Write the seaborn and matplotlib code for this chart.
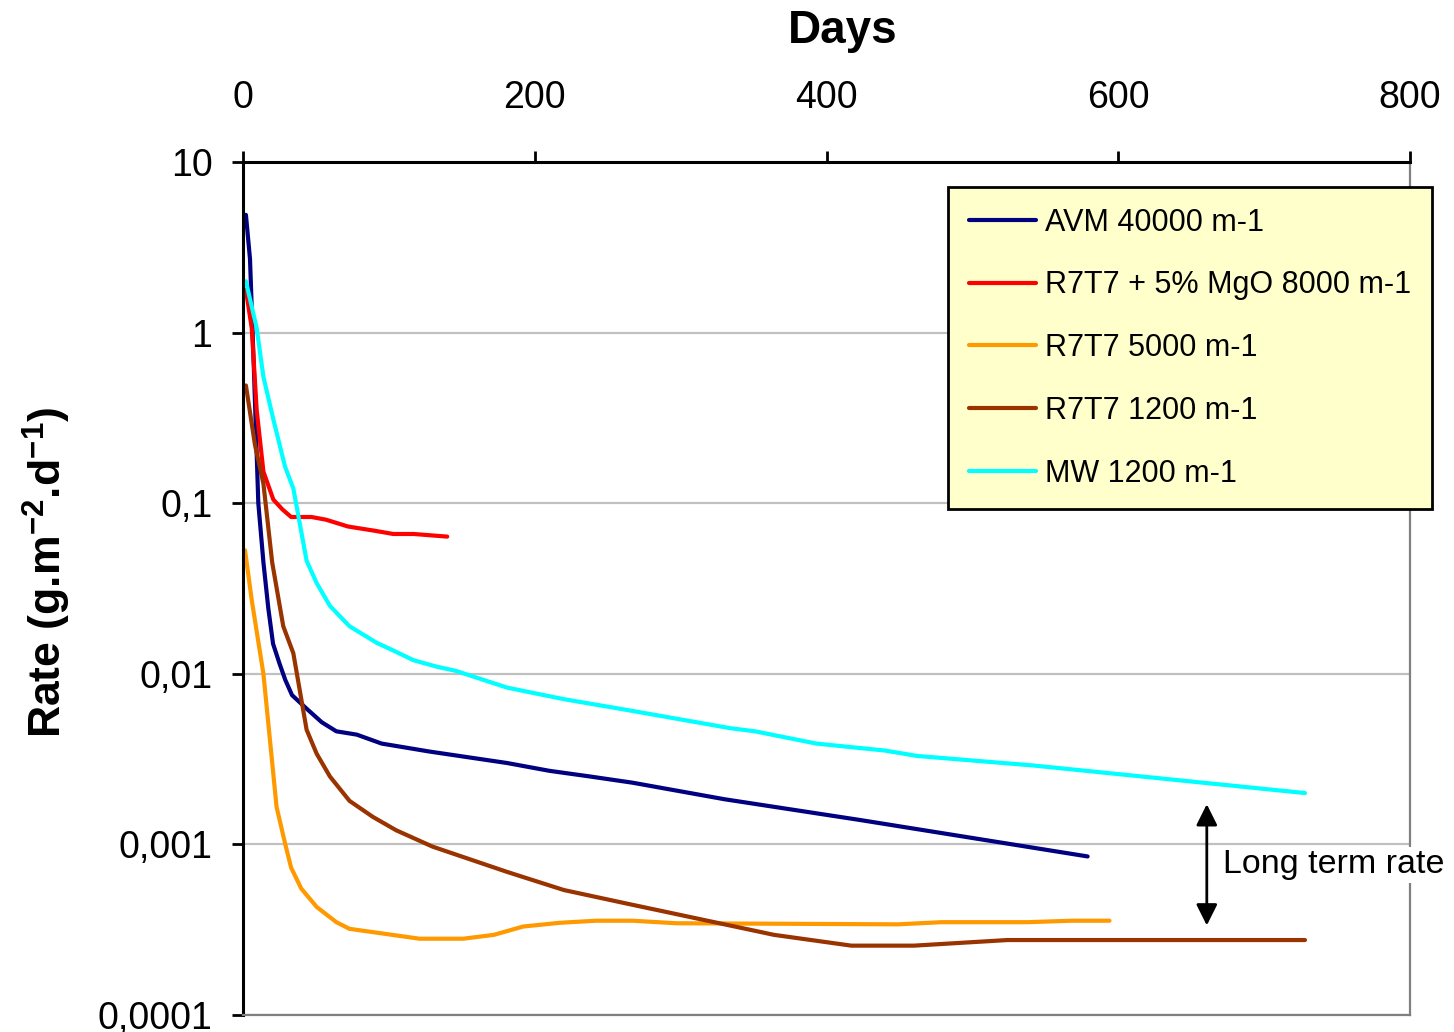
import matplotlib
matplotlib.use("Agg")
import matplotlib.pyplot as plt
import seaborn as sns
import numpy as np
import pandas as pd
from matplotlib.ticker import FixedLocator, FixedFormatter, NullLocator

# ---- data ----
series_names = ["AVM 40000 m-1", "R7T7 + 5% MgO 8000 m-1", "R7T7 5000 m-1",
                "R7T7 1200 m-1", "MW 1200 m-1"]
series_colors = ["#000080", "#FF0000", "#FF9900", "#993300", "#00FFFF"]

avm_days = [2, 4.8, 7.5, 10.5, 14, 17.4, 20.6, 25, 29, 33.6, 44, 54, 64, 78, 95,
            128, 181, 210, 238, 267, 330, 423, 579]
avm_rate = [4.9, 2.7, 0.6, 0.1, 0.045, 0.024, 0.015, 0.0115, 0.0092, 0.0075, 0.0062,
            0.0052, 0.0046, 0.0044, 0.0039, 0.0035, 0.0030, 0.0027, 0.0025, 0.0023,
            0.00184, 0.00139, 0.00085]

mgo_days = [2, 6, 9.4, 14, 20.8, 27, 33, 47, 57, 72, 90, 103, 117, 140]
mgo_rate = [1.78, 1.06, 0.35, 0.153, 0.105, 0.092, 0.083, 0.083, 0.080, 0.073,
            0.069, 0.066, 0.066, 0.0637]

r5000_days = [1.4, 6, 14, 23, 29, 33, 40, 50.5, 64, 73, 121, 151, 172, 192, 217,
              242, 267, 297, 449, 479, 538, 568, 594]
r5000_rate = [0.053, 0.027, 0.010, 0.00166, 0.001, 0.00073, 0.00055, 0.00043,
              0.00035, 0.00032, 0.00028, 0.00028, 0.000295, 0.00033, 0.000347,
              0.000357, 0.000357, 0.000345, 0.00034, 0.00035, 0.00035, 0.000357,
              0.000357]

r1200_days = [2, 8.2, 14, 20, 27.6, 34.5, 43.6, 50.5, 59.6, 73, 89, 105, 130, 181,
              220, 263, 364, 417, 460, 524, 728]
r1200_rate = [0.49, 0.22, 0.13, 0.045, 0.019, 0.0132, 0.0047, 0.0034, 0.0025,
              0.0018, 0.00145, 0.00121, 0.00097, 0.00069, 0.00054, 0.00045,
              0.000295, 0.000255, 0.000255, 0.000275, 0.000275]

mw_days = [2, 9.4, 14, 20.8, 28.8, 34.5, 43.6, 50.5, 59.6, 73, 91.6, 103, 117, 133,
           146, 181, 220, 265, 334, 351, 393, 419, 440, 462, 542, 728]
mw_rate = [2.0, 1.06, 0.55, 0.31, 0.164, 0.122, 0.046, 0.034, 0.025, 0.019, 0.0152,
           0.0137, 0.012, 0.011, 0.0104, 0.0083, 0.0071, 0.0061, 0.0048, 0.0046,
           0.0039, 0.0037, 0.00355, 0.0033, 0.0029, 0.0020]

x_ticks = [0, 200, 400, 600, 800]
y_ticks = [0.0001, 0.001, 0.01, 0.1, 1, 10]
y_tick_labels = ["0,0001", "0,001", "0,01", "0,1", "1", "10"]

all_days = [avm_days, mgo_days, r5000_days, r1200_days, mw_days]
all_rates = [avm_rate, mgo_rate, r5000_rate, r1200_rate, mw_rate]

frames = []
for name, d, r in zip(series_names, all_days, all_rates):
    frames.append(pd.DataFrame({"day": d, "rate": r, "series": name}))
df = pd.concat(frames, ignore_index=True)

# ---- style ----
sns.set_style("white")
plt.rcParams["font.family"] = ["Liberation Sans", "DejaVu Sans"]
plt.rcParams["mathtext.fontset"] = "custom"
plt.rcParams["mathtext.rm"] = "Liberation Sans:bold"
plt.rcParams["mathtext.bf"] = "Liberation Sans:bold"
plt.rcParams["text.color"] = "black"
plt.rcParams["axes.labelcolor"] = "black"
plt.rcParams["xtick.color"] = "black"
plt.rcParams["ytick.color"] = "black"

fig = plt.figure(figsize=(14.54, 10.32), dpi=100)
ax = fig.add_axes([243 / 1454, 1 - 1015 / 1032, (1410 - 243) / 1454, (1015 - 162) / 1032])

sns.lineplot(data=df, x="day", y="rate", hue="series", hue_order=series_names,
             palette=series_colors, estimator=None, sort=False, linewidth=3.2,
             ax=ax, legend=False)
for ln in ax.get_lines():
    ln.set_linewidth(3.0)
    ln.set_solid_joinstyle("round")

ax.set_yscale("log")
ax.set_xlim(0, 800)
ax.set_ylim(0.0001, 10)

ax.xaxis.set_ticks_position("top")
ax.xaxis.set_label_position("top")
ax.set_xticks(x_ticks)
ax.set_xticklabels([str(t) for t in x_ticks])
ax.yaxis.set_major_locator(FixedLocator(y_ticks))
ax.yaxis.set_major_formatter(FixedFormatter(y_tick_labels))
ax.yaxis.set_minor_locator(NullLocator())
ax.xaxis.set_minor_locator(NullLocator())

ax.tick_params(axis="x", which="major", direction="out", length=8, width=2,
               labelsize=27, pad=25, labelcolor="black", top=True, bottom=False)
ax.tick_params(axis="y", which="major", direction="out", length=8, width=2,
               labelsize=27, pad=14, labelcolor="black", left=True)

ax.grid(axis="y", color="#C0C0C0", lw=1.6)
ax.grid(axis="x", visible=False)
ax.set_axisbelow(True)

ax.spines["left"].set_color("black")
ax.spines["left"].set_linewidth(2.2)
ax.spines["top"].set_color("black")
ax.spines["top"].set_linewidth(2.2)
ax.spines["right"].set_color("#808080")
ax.spines["right"].set_linewidth(1.6)
ax.spines["bottom"].set_color("#808080")
ax.spines["bottom"].set_linewidth(1.6)

ax.set_xlabel("")
ax.set_ylabel("")

fig.text(843 / 1454, 1 - 31 / 1032, "Days", fontsize=33, fontweight="bold",
         ha="center", va="center", color="black")
fig.text(47 / 1454, 1 - 572 / 1032, r"Rate (g.m$^{\mathbf{-2}}$.d$^{\mathbf{-1}}$)",
         fontsize=32, fontweight="bold", rotation=90, ha="center", va="center",
         color="black")

# legend
handles = ax.get_lines()[:len(series_names)]
leg = ax.legend(handles, series_names, loc="upper left",
                bbox_to_anchor=(948 / 1454, 1 - 187 / 1032),
                bbox_transform=fig.transFigure, fontsize=22, frameon=True,
                fancybox=False, framealpha=1, facecolor="#FFFFCC",
                edgecolor="black", handlelength=2.2, handletextpad=0.3,
                labelspacing=1.07, borderpad=0.68, borderaxespad=0)
leg.get_frame().set_linewidth(2)
for t in leg.get_texts():
    t.set_color("black")

# long-term rate annotation
ax.annotate("", xy=(660.7, 0.000335), xytext=(660.7, 0.00172),
            arrowprops=dict(arrowstyle="<|-|>", color="black", lw=2,
                            mutation_scale=32, shrinkA=0, shrinkB=0))
ax.text(672, 0.00076, "Long term rate", fontsize=24.5, ha="left", va="center",
        clip_on=False, color="black",
        bbox=dict(facecolor="white", edgecolor="none", pad=2))

fig.savefig("out.png", dpi=100)
